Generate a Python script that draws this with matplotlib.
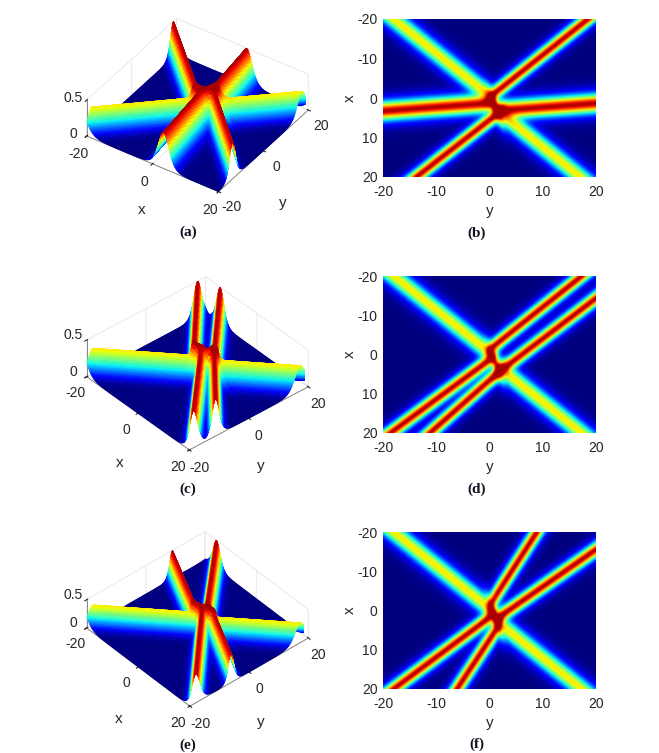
import numpy as np
from matplotlib import pyplot as plt
from mpl_toolkits.mplot3d import proj3d

plt.rcParams['font.family'] = ['Liberation Sans', 'DejaVu Sans']
plt.rcParams['axes.unicode_minus'] = False

W, H = 659, 753
ticks_2d = [-20, -10, 0, 10, 20]
ticks_3d = [-20, 0, 20]
ticks_z = [0, 0.5]
captions = ['(a)', '(b)', '(c)', '(d)', '(e)', '(f)']

# ridge arms: x = slope * y + offset,
# each arm only lives between y_from and y_to. Last entry is the short stem
# joining the two bright spots in the middle
slope_ab = [-1.05, -1.07, 1.08, 1.08, -0.10, -0.10, 2.35]
offset_ab = [5.6, -0.2, -0.56, 1.6, 1.3, 3.36, -0.13]
peak_ab = [0.5, 0.5, 0.345, 0.345, 0.5, 0.5, 0.42]
width_ab = [1.9, 1.9, 2.7, 2.7, 2.2, 2.2, 2.6]
y_from_ab = [-40, -0.6, -40, 1.0, -40, 0.8, -0.4]
y_to_ab = [2.8, 40, 1.3, 40, 1.2, 40, 2.5]

slope_cd = [-1.0, -1.08, -1.2, -1.03, 1.08, 1.08, 2.47]
offset_cd = [1.4, -1.3, 6.6, 6.3, -0.56, 1.3, -0.55]
peak_cd = [0.5, 0.5, 0.5, 0.5, 0.345, 0.345, 0.42]
width_cd = [1.9, 1.9, 2.0, 1.9, 2.7, 2.7, 2.6]
y_from_cd = [-40, -0.6, -40, 0.8, -40, 1.0, -0.4]
y_to_cd = [1.2, 40, 2.8, 40, 1.3, 40, 2.5]

slope_ef = [-2.05, -2.1, -1.01, -0.946, 1.08, 1.08, 2.78]
offset_ef = [7.5, -1.3, 1.8, 3.4, -0.56, 1.3, -1.28]
peak_ef = [0.5, 0.5, 0.5, 0.5, 0.345, 0.345, 0.42]
width_ef = [2.7, 2.7, 1.9, 1.9, 2.7, 2.7, 2.8]
y_from_ef = [-40, -0.5, -40, 0.7, -40, 1.0, -0.4]
y_to_ef = [2.5, 40, 1.3, 40, 1.3, 40, 2.4]

# 3D views: elev, azim, z box ratio
views = [(38.3, -55.7, 0.287), (38.0, -40.8, 0.296), (41.3, -41.1, 0.24)]
# pixel of corners (x=-20,y=-20,z=0) and (x=20,y=20,z=0)
corners = [((86.7, 136), (308.3, 110)),
           ((86.7, 376.7), (308.3, 386.7)),
           ((86.7, 628), (308.3, 639))]
# image panels in pixels: left, top, right, bottom
boxes = [(383, 19, 596, 177), (383, 276, 596, 433), (383, 532, 596, 689)]
cap_xy = [(188, 232), (477, 233), (188, 489), (477, 489), (188, 745), (477, 744)]
xlabel_xy = [(142, 210), (120, 463), (119, 719)]
ylabel_xy = [(283, 203), (261, 466), (261, 722)]

grid = np.linspace(-20, 20, 201)
Y, X = np.meshgrid(grid, grid)
P = 2.0


def field(slope, offset, peak, width, y_from, y_to):
    total = np.zeros_like(X)
    for s, c, a, w, y0, y1 in zip(slope, offset, peak, width, y_from, y_to):
        mask = 0.25 * (1 + np.tanh((Y - y0) / 0.9)) * (1 + np.tanh((y1 - Y) / 0.9))
        total += (mask * a / np.cosh((X - s * Y - c) / w) ** 2) ** P
    return np.minimum(total ** (1 / P), 0.5)


fields = [field(slope_ab, offset_ab, peak_ab, width_ab, y_from_ab, y_to_ab),
          field(slope_cd, offset_cd, peak_cd, width_cd, y_from_cd, y_to_cd),
          field(slope_ef, offset_ef, peak_ef, width_ef, y_from_ef, y_to_ef)]

fig = plt.figure(figsize=(W / 100, H / 100), dpi=100)


def to_px(ax, x, y, z):
    xs, ys, _ = proj3d.proj_transform(x, y, z, ax.get_proj())
    return ax.transData.transform((xs, ys))


def place(ax, a_px, d_px):
    # move and scale the square axes so the box corners land on their pixels
    size = 400.0
    ax.set_position([100 / W, 100 / H, size / W, size / H])
    a = to_px(ax, -20, -20, 0)
    d = to_px(ax, 20, 20, 0)
    size *= np.hypot(d_px[0] - a_px[0], d_px[1] - a_px[1]) / np.hypot(*(d - a))
    ax.set_position([100 / W, 100 / H, size / W, size / H])
    a = to_px(ax, -20, -20, 0)
    left = 100 + a_px[0] - a[0]
    bottom = 100 + (H - a_px[1]) - a[1]
    ax.set_position([left / W, bottom / H, size / W, size / H])


for i, Z in enumerate(fields):
    elev, azim, zr = views[i]
    ax = fig.add_subplot(projection='3d', proj_type='ortho')
    ax.view_init(elev=elev, azim=azim)
    ax.set_box_aspect((1, 1, zr))
    ax.set_xlim(-20, 20)
    ax.set_ylim(-20, 20)
    ax.set_zlim(0, 0.5)
    place(ax, corners[i][0], corners[i][1])
    surf = ax.plot_surface(X, Y, Z, cmap='jet', vmin=0, vmax=0.52, rcount=201, ccount=201,
                           antialiased=True, shade=False)
    surf.set_edgecolor('face')
    surf.set_linewidth(0.3)
    ax.set_xticks(ticks_3d)
    ax.set_yticks(ticks_3d)
    ax.set_zticks(ticks_z)
    ax.set_zticklabels(['0', '0.5'])
    ax.tick_params(labelsize=10, colors='#262626', pad=0, length=2)
    ax.zaxis.set_ticks_position('lower')
    ax.tick_params(axis='z', pad=-3)
    for label in ax.get_zticklabels():
        label.set_va('baseline')
    for axis in (ax.xaxis, ax.yaxis, ax.zaxis):
        axis.set_pane_color((1, 1, 1, 1))
        axis._axinfo['grid'].update(color='#e6e6e6', linewidth=0.6)
        axis.line.set_color('#777777')
        axis.line.set_linewidth(0.6)
    fig.text(xlabel_xy[i][0] / W, 1 - xlabel_xy[i][1] / H, 'x', ha='center', va='center',
             fontsize=11, color='#262626')
    fig.text(ylabel_xy[i][0] / W, 1 - ylabel_xy[i][1] / H, 'y', ha='center', va='center',
             fontsize=11, color='#262626')

    l, t, r, b = boxes[i]
    ax2 = fig.add_axes([l / W, 1 - b / H, (r - l) / W, (b - t) / H])
    ax2.imshow(Z, extent=[-20, 20, 20, -20], cmap='jet', vmin=0, vmax=0.52,
               aspect='auto', interpolation='bicubic')
    ax2.set_xticks(ticks_2d)
    ax2.set_yticks(ticks_2d)
    ax2.set_xlabel('y', fontsize=11, color='#262626', labelpad=3)
    ax2.set_ylabel('x', fontsize=11, color='#262626', labelpad=0)
    ax2.tick_params(labelsize=10, colors='#262626', length=0, pad=6)
    ax2.tick_params(axis='y', pad=4)
    for spine in ax2.spines.values():
        spine.set_visible(False)

for text, (cx, cy) in zip(captions, cap_xy):
    fig.text(cx / W, 1 - cy / H, text, ha='center', va='center', fontsize=11,
             fontweight='bold', family='Liberation Serif', color='#111122')

fig.savefig('out.png', dpi=100)
